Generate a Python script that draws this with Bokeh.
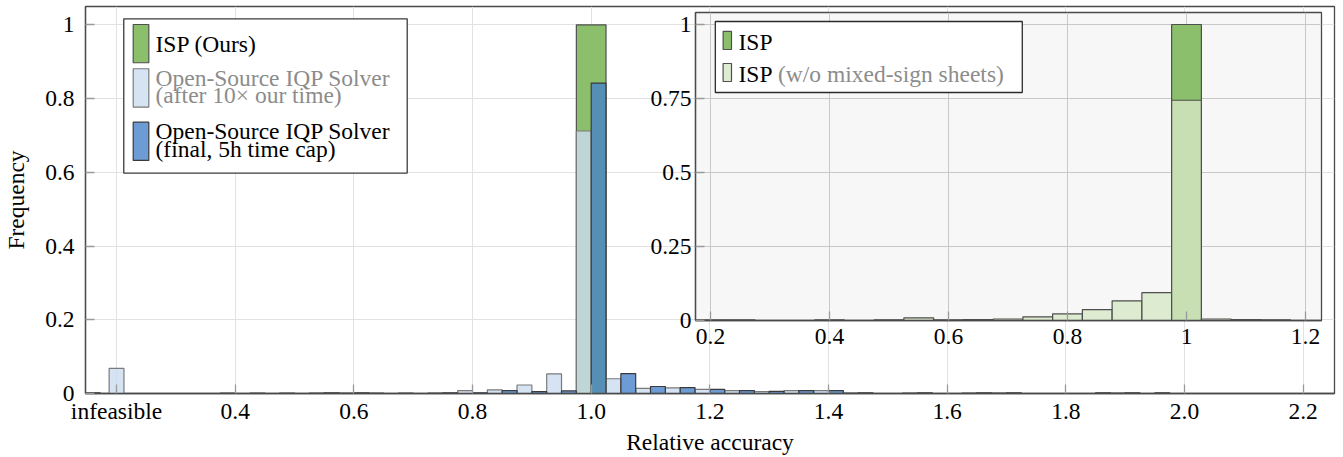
from bokeh.plotting import figure
from bokeh.models import Range1d, FixedTicker, ColumnDataSource
from bokeh.layouts import column
from bokeh.transform import dodge
from bokeh.embed import file_html
from bokeh.resources import INLINE
from bokeh.core.properties import value

FONT = "Liberation Serif"
FS = "23.5px"

# ---------------- data: main histogram (bin width 0.05) ----------------
bin_centers = [0.40, 0.45, 0.50, 0.55, 0.60, 0.65, 0.70, 0.75, 0.80, 0.85,
               0.90, 0.95, 1.00, 1.05, 1.10, 1.15, 1.20, 1.25, 1.30, 1.35,
               1.40, 1.45, 1.50, 1.55, 1.60, 1.65, 1.70, 1.75, 1.80, 1.85,
               1.90, 1.95, 2.00]
solver_10x = [0.002, 0.002, 0.002, 0.002, 0.002, 0.002, 0.002, 0.002, 0.008, 0.010,
              0.023, 0.053, 0.712, 0.040, 0.014, 0.015, 0.011, 0.008, 0.005, 0.008,
              0.008, 0.002, 0.0, 0.002, 0.0, 0.002, 0.002, 0.0, 0.0, 0.0,
              0.002, 0.0, 0.0]
solver_final = [0.0, 0.0, 0.0, 0.002, 0.002, 0.0, 0.0, 0.002, 0.002, 0.008,
                0.005, 0.007, 0.842, 0.054, 0.019, 0.016, 0.011, 0.008, 0.006, 0.008,
                0.008, 0.002, 0.0, 0.002, 0.0, 0.002, 0.002, 0.0, 0.0, 0.002,
                0.002, 0.002, 0.0]
infeasible_x = [0.2]
infeasible_10x = [0.068]
infeasible_final_x = [0.16]
infeasible_final = [0.002]
isp_centers = [1.0]
isp_values = [1.0]

main_xticks = [0.2, 0.4, 0.6, 0.8, 1.0, 1.2, 1.4, 1.6, 1.8, 2.0, 2.2]
main_xlabels = ["infeasible", "0.4", "0.6", "0.8", "1.0", "1.2", "1.4", "1.6", "1.8", "2.0", "2.2"]
main_yticks = [0, 0.2, 0.4, 0.6, 0.8, 1.0]
main_ylabels = ["0", "0.2", "0.4", "0.6", "0.8", "1"]

# ---------------- data: inset histogram ----------------
inset_centers = [0.20, 0.25, 0.30, 0.35, 0.40, 0.45, 0.50, 0.55, 0.60, 0.65,
                 0.70, 0.75, 0.80, 0.85, 0.90, 0.95, 1.00, 1.05, 1.10, 1.15, 1.20]
isp_inset = [0.0, 0.0, 0.0, 0.0, 0.0, 0.0, 0.0, 0.0, 0.0, 0.0,
             0.0, 0.0, 0.0, 0.0, 0.0, 0.0, 1.0, 0.0, 0.0, 0.0, 0.0]
isp_nomixed = [0.002, 0.002, 0.0, 0.0, 0.002, 0.0, 0.002, 0.009, 0.002, 0.003,
               0.005, 0.0125, 0.0225, 0.037, 0.0665, 0.094, 0.744, 0.005, 0.003, 0.002, 0.0]
inset_xticks = [0.2, 0.4, 0.6, 0.8, 1.0, 1.2]
inset_xlabels = ["0.2", "0.4", "0.6", "0.8", "1", "1.2"]
inset_yticks = [0, 0.25, 0.5, 0.75, 1.0]
inset_ylabels = ["0", "0.25", "0.5", "0.75", "1"]

x_title = "Relative accuracy"
y_title = "Frequency"
main_legend_texts = ["ISP (Ours)", "Open-Source IQP Solver", "(after 10\u00d7 our time)",
                     "Open-Source IQP Solver", "(final, 5h time cap)"]
inset_legend_texts = ["ISP", "ISP", "(w/o mixed-sign sheets)"]

GREEN = "#8cbf6b"
LIGHT = "#cadcf0"
DARK = "#4883c9"
NOMIX = "#d6e7c6"
GREY_TXT = "#8c8c8c"
SPINE = "#4a4a4a"


def nz(xs, ys):
    pairs = [(x, y) for x, y in zip(xs, ys) if y > 0]
    return dict(x=[p[0] for p in pairs], top=[p[1] for p in pairs])


def style_axes(fig, xt, xl, yt, yl, grid_color, xstand, ystand):
    fig.xaxis.ticker = FixedTicker(ticks=xt)
    fig.yaxis.ticker = FixedTicker(ticks=yt)
    fig.xaxis.major_label_overrides = {t: l for t, l in zip(xt, xl)}
    fig.yaxis.major_label_overrides = {t: l for t, l in zip(yt, yl)}
    for ax in (fig.xaxis, fig.yaxis):
        ax.major_label_text_font = FONT
        ax.major_label_text_font_size = FS
        ax.major_label_text_color = "black"
        ax.axis_label_text_font = FONT
        ax.axis_label_text_font_size = FS
        ax.axis_label_text_font_style = "normal"
        ax.axis_label_text_color = "black"
        ax.axis_line_color = SPINE
        ax.axis_line_width = 1.3
        ax.major_tick_in = 9
        ax.major_tick_out = 0
        ax.major_tick_line_color = "#9a9a9a"
        ax.major_tick_line_width = 1.3
        ax.minor_tick_line_color = None
    fig.xaxis.major_label_standoff = xstand
    fig.yaxis.major_label_standoff = ystand
    fig.xgrid.grid_line_color = grid_color
    fig.ygrid.grid_line_color = grid_color
    fig.xgrid.grid_line_width = 1
    fig.ygrid.grid_line_width = 1
    fig.outline_line_color = SPINE
    fig.outline_line_width = 1.3


# ---------------- main figure ----------------
p = figure(width=1336, height=457, output_backend="svg", toolbar_location=None,
           x_range=Range1d(0.14769, 2.2528), y_range=Range1d(0, 1.0496),
           min_border_left=85, min_border_right=2, min_border_top=6, min_border_bottom=64)
p.background_fill_color = "white"
p.border_fill_color = "white"
style_axes(p, main_xticks, main_xlabels, main_yticks, main_ylabels, "#e2e2e2", 4, 11)
p.xaxis.axis_label = x_title
p.yaxis.axis_label = y_title
p.xaxis.axis_label_standoff = 2
p.yaxis.axis_label_standoff = 13

# ISP (green) underneath
p.vbar(x=isp_centers, top=isp_values, width=0.05, bottom=0,
       fill_color=GREEN, line_color="#505050", line_width=1.2)
# solver after 10x time (left half of each bin)
src_l = ColumnDataSource(nz(bin_centers, solver_10x))
p.vbar(x=dodge("x", -0.0125, range=p.x_range), top="top", width=0.025, bottom=0, source=src_l,
       fill_color=LIGHT, fill_alpha=0.8, line_color="#7a7a7a", line_width=1.2)
p.vbar(x=infeasible_x, top=infeasible_10x, width=0.025, bottom=0,
       fill_color=LIGHT, fill_alpha=0.8, line_color="#7a7a7a", line_width=1.2)
# solver final (right half of each bin)
src_d = ColumnDataSource(nz(bin_centers, solver_final))
p.vbar(x=dodge("x", 0.0125, range=p.x_range), top="top", width=0.025, bottom=0, source=src_d,
       fill_color=DARK, fill_alpha=0.8, line_color="#3a3a3a", line_width=1.2)
p.vbar(x=infeasible_final_x, top=infeasible_final, width=0.025, bottom=0,
       fill_color=DARK, fill_alpha=0.8, line_color="#3a3a3a", line_width=1.2)

# main legend (drawn manually for tight line spacing)
p.quad(left=[0.2122], right=[0.6899], bottom=[0.5978], top=[1.0163],
       fill_color="white", line_color="#3a3a3a", line_width=1.3)
p.quad(left=[0.2281], right=[0.2544], bottom=[0.8970], top=[1.0008],
       fill_color=GREEN, line_color="#505050", line_width=1.2)
p.quad(left=[0.2281], right=[0.2544], bottom=[0.7767], top=[0.8808],
       fill_color=LIGHT, fill_alpha=0.8, line_color="#7a7a7a", line_width=1.2)
p.quad(left=[0.2281], right=[0.2544], bottom=[0.6322], top=[0.7360],
       fill_color=DARK, fill_alpha=0.8, line_color="#3a3a3a", line_width=1.2)
p.text(x=[0.2657] * 5, y=[0.9467, 0.8564, 0.8098, 0.7117, 0.6621],
       text=main_legend_texts,
       text_color=["black", GREY_TXT, GREY_TXT, "black", "black"],
       text_font=value(FONT), text_font_size=value(FS),
       text_baseline="alphabetic", text_align="left")

# ---------------- inset figure ----------------
q = figure(width=713, height=352, output_backend="svg", toolbar_location=None,
           x_range=Range1d(0.17479, 1.22689), y_range=Range1d(0, 1.0405),
           min_border_left=85, min_border_right=2, min_border_top=4, min_border_bottom=40)
q.background_fill_color = "#f7f7f7"
q.border_fill_color = None
q.border_fill_alpha = 0
style_axes(q, inset_xticks, inset_xlabels, inset_yticks, inset_ylabels, "#c8c8c8", 8, 4)

src_i = ColumnDataSource(nz(inset_centers, isp_inset))
q.vbar(x="x", top="top", width=0.05, bottom=0, source=src_i,
       fill_color=GREEN, line_color="#505050", line_width=1.2)
src_n = ColumnDataSource(nz(inset_centers, isp_nomixed))
q.vbar(x="x", top="top", width=0.05, bottom=0, source=src_n,
       fill_color=NOMIX, fill_alpha=0.8, line_color="#4f4f4f", line_width=1.2)

q.quad(left=[0.2081], right=[0.7240], bottom=[0.7703], top=[1.0101],
       fill_color="white", line_color="#2a2a2a", line_width=1.3)
q.quad(left=[0.2212], right=[0.2353], bottom=[0.9155], top=[0.9764],
       fill_color=GREEN, line_color="#505050", line_width=1.2)
q.quad(left=[0.2212], right=[0.2353], bottom=[0.8074], top=[0.8682],
       fill_color=NOMIX, fill_alpha=0.8, line_color="#4f4f4f", line_width=1.2)
q.text(x=[0.2471, 0.2471, 0.3135], y=[0.9392, 0.8311, 0.8311],
       text=inset_legend_texts, text_color=["black", "black", GREY_TXT],
       text_font=value(FONT), text_font_size=value(FS),
       text_baseline="alphabetic", text_align="left")

q.margin = (-449, 0, 0, 610)
p.margin = (0, 0, 0, 0)

layout = column(p, q, spacing=0)
open("out.html", "w").write(file_html(layout, INLINE))
